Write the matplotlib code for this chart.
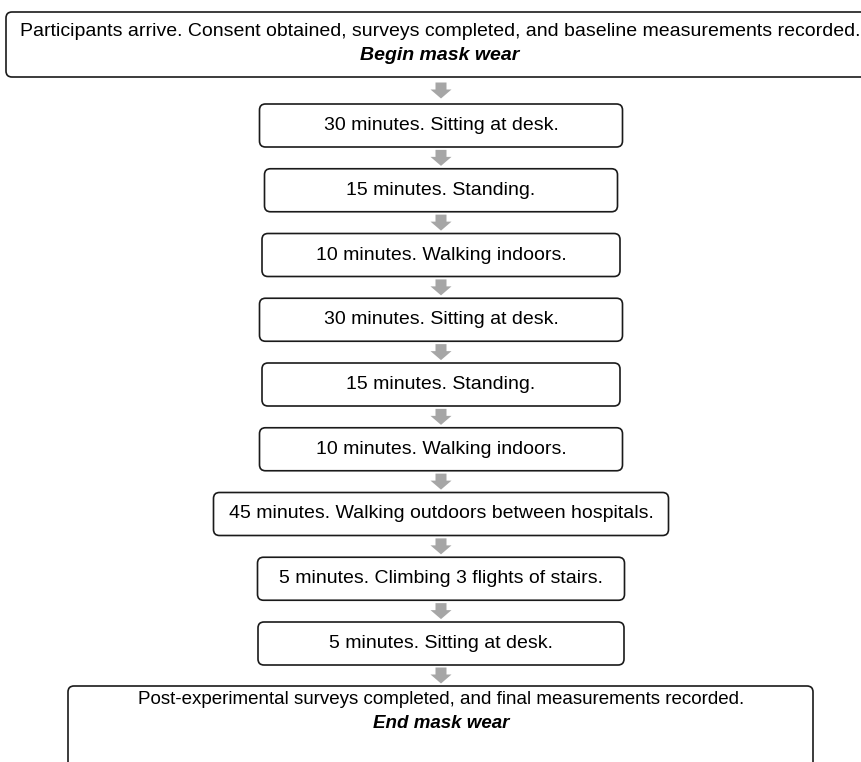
import matplotlib.pyplot as plt
from matplotlib.patches import FancyBboxPatch

# Texte des étapes du protocole (de haut en bas)
first_step = "Participants arrive. Consent obtained, surveys completed, and baseline measurements recorded."
first_note = "Begin mask wear"
steps = [
    "30 minutes. Sitting at desk.",
    "15 minutes. Standing.",
    "10 minutes. Walking indoors.",
    "30 minutes. Sitting at desk.",
    "15 minutes. Standing.",
    "10 minutes. Walking indoors.",
    "45 minutes. Walking outdoors between hospitals.",
    "5 minutes. Climbing 3 flights of stairs.",
    "5 minutes. Sitting at desk.",
]
last_step = "Post-experimental surveys completed, and final measurements recorded."
last_note = "End mask wear"

plt.rcParams['font.family'] = ['Liberation Sans', 'DejaVu Sans']

W, H = 862, 762
fig = plt.figure(figsize=(W / 100, H / 100), dpi=100)
ax = fig.add_axes([0, 0, 1, 1])
ax.set_xlim(0, W)
ax.set_ylim(H, 0)
ax.axis('off')

cx = 441
edge = '#1a1a1a'
grey = '#a6a6a6'
fs = 14


def box(x0, y0, w, h):
    p = FancyBboxPatch((x0, y0), w, h, boxstyle="round,pad=0,rounding_size=6",
                       fc='white', ec=edge, lw=1.2, zorder=2)
    ax.add_patch(p)


def arrow(y_top, y_bot):
    # flèche grise centrée dans l'espace entre deux boîtes
    mid = (y_top + y_bot) / 2
    ax.arrow(cx, mid - 8, 0, 16, width=11, head_width=21, head_length=9,
             length_includes_head=True, fc=grey, ec='none', zorder=3)


# boîte du haut (coupée à droite)
box(6, 12, 870, 65)
ax.text(440, 31, first_step, ha='center', va='center', fontsize=fs)
ax.text(440, 56, first_note, ha='center', va='center', fontsize=fs,
        fontweight='bold', fontstyle='italic')

# boîtes intermédiaires
widths = [363, 353, 358, 363, 358, 363, 455, 367, 366]
top0, pitch, bh = 104, 64.75, 43
prev_bottom = 77
for i, s in enumerate(steps):
    t = top0 + i * pitch
    arrow(prev_bottom, t)
    box(cx - widths[i] / 2, t, widths[i], bh)
    ax.text(cx, t + bh / 2, s, ha='center', va='center', fontsize=fs)
    prev_bottom = t + bh

# boîte du bas (coupée en bas)
t = 686
arrow(prev_bottom, t)
box(68, t, 745, 120)
ax.text(cx, t + 13, last_step, ha='center', va='center', fontsize=13.5)
ax.text(cx, t + 38, last_note, ha='center', va='center', fontsize=13.5,
        fontweight='bold', fontstyle='italic')

fig.savefig('out.png', dpi=100)
